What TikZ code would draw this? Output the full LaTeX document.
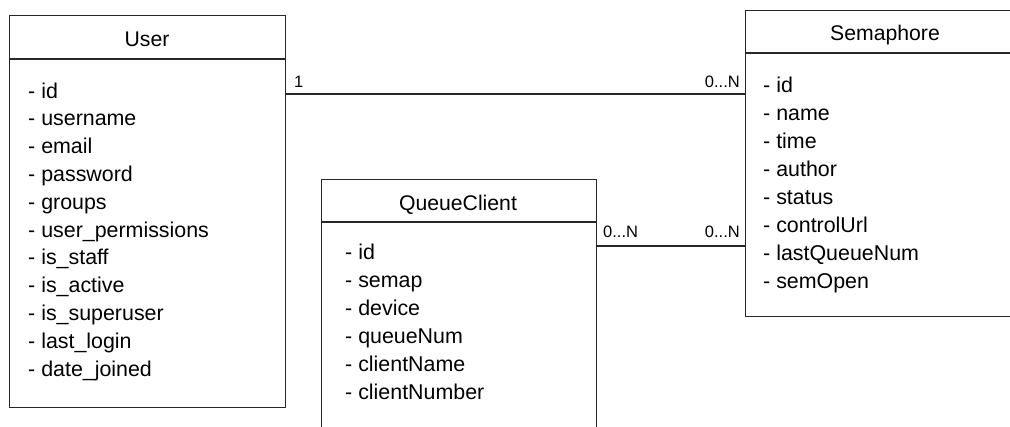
\documentclass[tikz,border=0pt]{standalone}
\usepackage{fontspec}
\setmainfont{Liberation Sans}
\begin{document}
\begin{tikzpicture}[x=1pt,y=-1pt,
  box/.style={draw=black!85,line width=1.3pt,rectangle,inner sep=0pt,anchor=north west},
  attr/.style={anchor=base west,inner sep=0pt,font=\fontsize{21.4}{25}\selectfont},
  ttl/.style={anchor=base,inner sep=0pt,font=\fontsize{21.2}{25}\selectfont},
  mult/.style={inner sep=0pt,font=\fontsize{16.5}{20}\selectfont},
  conn/.style={draw=black!85,line width=1.1pt},
  sep/.style={draw=black!85,line width=1.3pt}]
\useasboundingbox (0,0) rectangle (1010,426);
\clip (0,0) rectangle (1010,426);
\fill[white] (0,0) rectangle (1010,426);
% boxes
\node[box,minimum width=276pt,minimum height=392pt] (user) at (9,15) {};
\node[box,minimum width=290pt,minimum height=306pt] (sem) at (745,10) {};
\node[box,minimum width=275pt,minimum height=290pt] (qc) at (321,179) {};
% separator coordinates
\coordinate (su) at (0,59);
\coordinate (ss) at (0,53);
\coordinate (sq) at (0,222);
\draw[sep] (user.west |- su) -- (user.east |- su);
\draw[sep] (sem.west |- ss) -- (sem.east |- ss);
\draw[sep] (qc.west |- sq) -- (qc.east |- sq);
% titles
\node[ttl] (tuser) at (147,46) {User};
\node[ttl] (tsem) at (885,40) {Semaphore};
\node[ttl] (tqc) at (458,210) {QueueClient};
% User attributes
\foreach \t [count=\i from 0] in {id,username,email,password,groups,user\_permissions,is\_staff,is\_active,is\_superuser,last\_login,date\_joined}
  \node[attr] (u\i) at (28,98+27.8*\i) {- \t};
% Semaphore attributes
\foreach \t [count=\i from 0] in {id,name,time,author,status,controlUrl,lastQueueNum,semOpen}
  \node[attr] (s\i) at (763,92+28*\i) {- \t};
% QueueClient attributes
\foreach \t [count=\i from 0] in {id,semap,device,queueNum,clientName,clientNumber}
  \node[attr] (q\i) at (345,259+28*\i) {- \t};
% connectors
\coordinate (r1) at (0,94);
\coordinate (r2) at (0,246);
\draw[conn] (user.east |- r1) -- (sem.west |- r1);
\draw[conn] (qc.east |- r2) -- (sem.west |- r2);
% multiplicities
\node[mult,anchor=base west] (m1) at (294,87) {1};
\node[mult,anchor=base east] (m2) at (740,87) {0...N};
\node[mult,anchor=base west] (m3) at (603,237) {0...N};
\node[mult,anchor=base east] (m4) at (740,237) {0...N};
\end{tikzpicture}
\end{document}
